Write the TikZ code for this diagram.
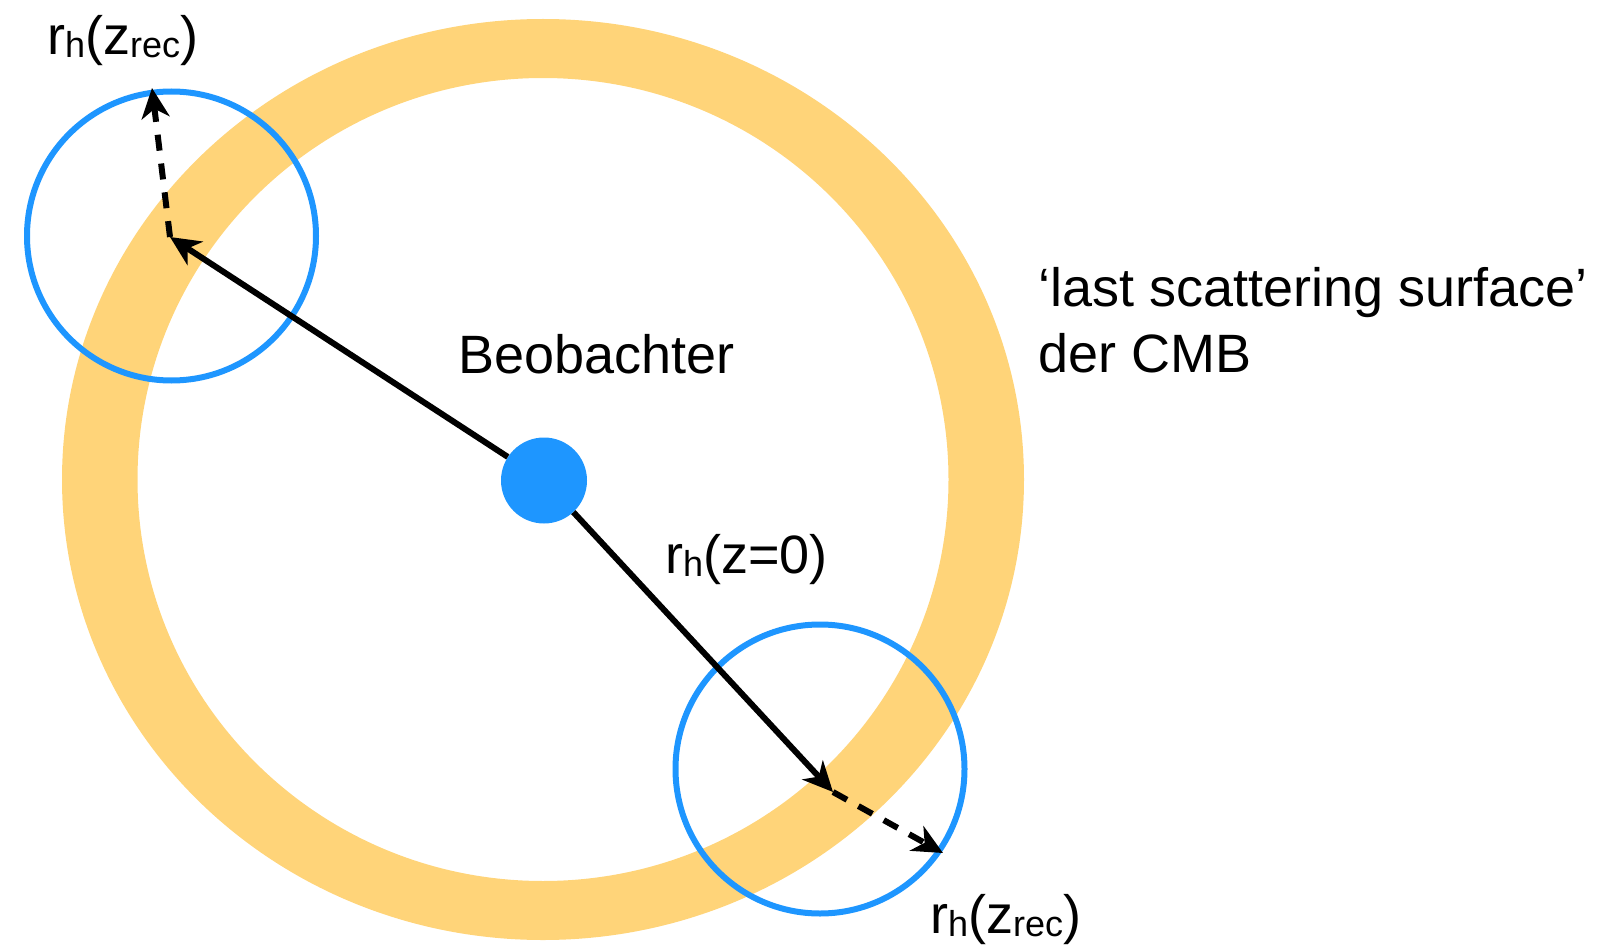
\documentclass[tikz,border=0pt]{standalone}
\usepackage{fontspec}
\setmainfont{Liberation Sans}
\usetikzlibrary{arrows.meta}
\definecolor{ringY}{RGB}{255,212,121}
\definecolor{aqua}{RGB}{30,150,255}
\newcommand\lsub[1]{\raisebox{-3pt}{\fontsize{36}{40}\selectfont #1}}
\begin{document}
\begin{tikzpicture}[x=1pt,y=-1pt,
  lbl/.style={inner sep=0pt, anchor=base west, font=\fontsize{54}{60}\selectfont},
  horizon/.style={draw=aqua, line width=6pt, circle, inner sep=0pt, minimum size=289pt},
  arr/.style={line width=6pt, -{Stealth[length=30pt, width=28pt, inset=9pt]}},
  dashedarr/.style={arr, dash pattern=on 16pt off 13pt}]
\useasboundingbox (0,0) rectangle (1599,947);
% ring (last scattering surface)
\fill[ringY, even odd rule] (543,479.5) ellipse [x radius=481pt, y radius=460.5pt]
                            (543,479.5) ellipse [x radius=405.5pt, y radius=401.5pt];
% horizon circles
\node[horizon] (hA) at (171.5,236) {};
\node[horizon] (hB) at (820,769) {};
% tips
\coordinate (tA) at (170,237);
\coordinate (eA) at (152,88);
\coordinate (tB) at (833,792);
\coordinate (eB) at (943,853);
% observer
\node[fill=aqua, circle, inner sep=0pt, minimum size=86pt] (obs) at (544,480.5) {};
% arrows
\draw[arr] (obs) -- (tA);
\draw[dashedarr] (tA) -- (eA);
\draw[arr] (obs) -- (tB);
\draw[dashedarr] (tB) -- (eB);
% labels
\node[lbl] (lA) at (47,55) {r\lsub{h}(z\lsub{rec})};
\node[lbl] (lB) at (930,933) {r\lsub{h}(z\lsub{rec})};
\node[lbl] (lC) at (665,573) {r\lsub{h}(z=0)};
\node[lbl] (lObs) at (458,373) {Beobachter};
\node[lbl] (lS1) at (1038,306) {‘last scattering surface’};
\node[lbl] (lS2) at (1038,372) {der CMB};
\end{tikzpicture}
\end{document}
